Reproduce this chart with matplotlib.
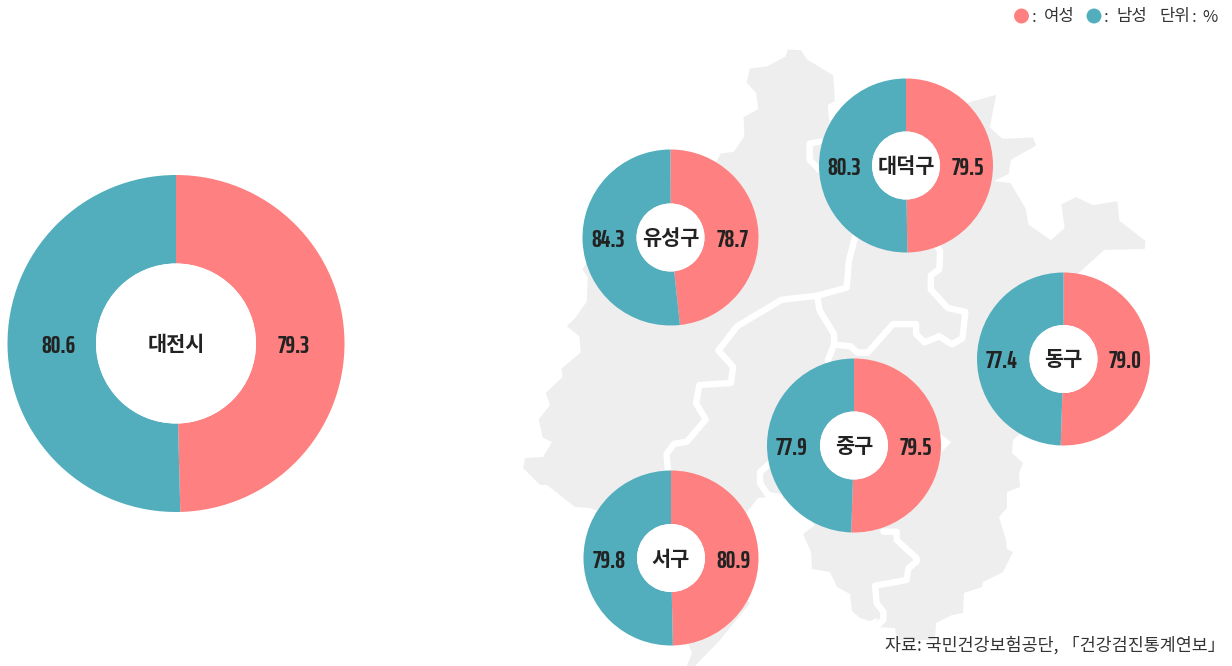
import matplotlib
matplotlib.use("Agg")
import matplotlib.pyplot as plt
from matplotlib.patches import Polygon, Circle
from matplotlib import font_manager as fm

# ---- data ----
districts = ["대전시", "유성구", "대덕구", "동구", "중구", "서구"]
women = [79.3, 78.7, 79.5, 79.0, 79.5, 80.9]
men = [80.6, 84.3, 80.3, 77.4, 77.9, 79.8]
# Slice sizes as drawn in the picture: the 서구 slices follow the opposite order of its labels.
slice_pink = [79.3, 78.7, 79.5, 79.0, 79.5, 79.8]
slice_teal = [80.6, 84.3, 80.3, 77.4, 77.9, 80.9]
legend_women = "여성"
legend_men = "남성"
unit_text = "단위"
unit_sign = "%"
source_text = "자료: 국민건강보험공단, 「건강검진통계연보」"

# ---- layout (pixels of the 1232x666 picture) ----
W, H = 1232, 666
centers = [(176, 343.5), (670.5, 237.5), (906, 165.5), (1063.5, 359), (854, 445.5), (671, 558)]
radii = [168.5, 88, 87, 86.5, 87, 87.5]
holes = [80, 34, 34, 34, 34, 34]
pct_offset = [118, 62, 62, 62, 62, 62]
PINK, TEAL, GREY, INK = "#FF8080", "#52AEBD", "#EEEEEE", "#222222"

KR = ["Noto Sans CJK KR", "DejaVu Sans"]
names = {f.name for f in fm.fontManager.ttflist}
NUM = next((n for n in ["Saira ExtraCondensed", "Sofia Sans Extra Condensed", "Liberation Sans"] if n in names))


def Z(pts):
    """Trace of the overview crop to picture pixels."""
    return [(510 + x / 2.376, 30 + y / 2.465) for x, y in pts]


outline = (
    Z([(660, 48), (692, 50), (705, 72), (768, 112), (772, 175), (755, 185), (760, 240), (800, 300),
       (1085, 180), (1155, 160), (1140, 240), (1170, 268), (1243, 265), (1250, 285), (1190, 320),
       (1185, 355), (1150, 372), (1190, 378), (1225, 440), (1232, 480), (1285, 518), (1318, 488),
       (1310, 430), (1345, 412), (1385, 432), (1443, 422), (1448, 470), (1510, 520), (1508, 540),
       (1412, 542), (1350, 600)])
    + [(1060, 400), (1013, 440), (1012, 453), (1023, 463), (1019, 473), (1020, 487), (1007, 492),
       (1007, 508), (999, 517), (1006, 540), (1007, 549), (1013, 552), (1003, 572), (983, 582),
       (982, 587), (964, 593), (963, 613), (952, 615), (936, 623), (935, 640), (897, 640),
       (895, 628), (875, 627), (878, 618), (870, 621), (860, 618), (852, 611), (850, 594),
       (837, 587), (830, 572), (812, 569), (811, 552), (803, 534), (815, 525), (790, 500),
       (768, 497), (758, 498), (747, 512), (700, 560), (750, 603), (720, 640), (695, 666),
       (687, 666), (692, 653), (670, 600), (620, 520), (590, 508), (575, 507), (547, 485),
       (540, 485), (523, 468), (525, 458), (543, 457), (552, 442)]
    + Z([(78, 1005), (68, 960), (95, 925), (85, 895), (125, 855), (122, 835), (168, 795), (165, 755),
         (135, 730), (155, 710), (182, 670), (185, 610), (172, 590), (300, 400), (490, 325), (500, 305),
         (532, 300), (557, 262), (555, 215), (590, 195), (585, 155), (562, 130), (570, 95), (610, 90),
         (655, 65)])
)

roads = [
    Z([(820, 510), (805, 570), (800, 635), (730, 655), (645, 665), (540, 730), (495, 790), (530, 830),
       (525, 870), (450, 875), (442, 920), (465, 960), (420, 1015), (390, 1020), (372, 1045), (375, 1085)]),
    Z([(730, 655), (735, 690), (770, 750), (770, 775), (810, 780), (825, 795), (850, 795), (910, 725),
       (965, 725), (965, 750), (985, 770), (1020, 755), (1050, 775), (1075, 760), (1082, 695), (1040, 685),
       (1000, 640), (1000, 605), (1020, 590), (1022, 545), (1010, 525)]),
    Z([(770, 775), (755, 815)]),
    Z([(735, 275), (712, 280), (712, 320), (735, 345)]),
    [(772, 462), (768, 465), (760, 472), (760, 483), (768, 495), (780, 497)],
    [(780 + x / 3, 520 + y / 3) for x, y in [(310, 35), (350, 35), (350, 60), (410, 115), (410, 125), (385, 145),
                                             (380, 180), (285, 197), (290, 250), (310, 275), (310, 300), (285, 322)]],
]

# ---- drawing ----
fig = plt.figure(figsize=(W / 100, H / 100), dpi=100)
ax = fig.add_axes([0, 0, 1, 1])


def P(pts):
    return [(x, H - y) for x, y in pts]


ax.add_patch(Polygon(P(outline), closed=True, fc=GREY, ec="none", zorder=1))
for r in roads:
    xs, ys = zip(*P(r))
    ax.plot(xs, ys, color="white", lw=4.6, solid_joinstyle="round", solid_capstyle="round", zorder=2)
# notch on the right of the 중구 circle
ax.add_patch(Polygon(P([(930, 426), (951, 442), (930, 465)]), closed=True, fc="white", ec="none", zorder=2))

for i, name in enumerate(districts):
    cx, cy = centers[i]
    R = radii[i]
    wedges, _ = ax.pie([slice_pink[i], slice_teal[i]], colors=[PINK, TEAL], startangle=90, counterclock=False,
                       center=(cx, H - cy), radius=R, frame=True,
                       wedgeprops=dict(width=R - holes[i], linewidth=0))
    for w in wedges:
        w.set_zorder(3)
    ax.add_patch(Circle((cx, H - cy), holes[i], fc="white", ec="none", zorder=3))
    ax.text(cx, H - cy - 1, name, family=KR, weight="bold", fontsize=15, ha="center", va="center",
            color=INK, zorder=4)
    off = pct_offset[i]
    ax.text(cx + off, H - cy - 2.5, f"{women[i]:.1f}", family=NUM, weight=700, fontsize=17.5, ha="center",
            va="center", color=INK, zorder=4)
    ax.text(cx - off, H - cy - 2.5, f"{men[i]:.1f}", family=NUM, weight=700, fontsize=17.5, ha="center",
            va="center", color=INK, zorder=4)

ax.scatter([1021.5, 1094], [H - 16, H - 16], s=[115, 115], c=[PINK, TEAL], linewidths=0, zorder=5)
for x_colon, x_name, label in [(1032, 1044, legend_women), (1104, 1116, legend_men)]:
    ax.text(x_colon, H - 17, ":", family=KR, fontsize=12, ha="left", va="center", color="#333333", zorder=5)
    ax.text(x_name, H - 17, label, family=KR, fontsize=12, ha="left", va="center", color="#333333", zorder=5)
ax.text(1159, H - 17, unit_text, family=KR, fontsize=12, ha="left", va="center", color="#333333", zorder=5)
ax.text(1192, H - 17, ":", family=KR, fontsize=12, ha="left", va="center", color="#333333", zorder=5)
ax.text(1218, H - 17, unit_sign, family=KR, fontsize=12, ha="right", va="center", color="#333333", zorder=5)
ax.text(1225, H - 645, source_text, family=KR, fontsize=12.5, ha="right", va="center", color="#333333", zorder=5)

ax.set_xlim(0, W)
ax.set_ylim(0, H)
ax.set_aspect("equal")
ax.axis("off")
fig.savefig("out.png", dpi=100)
